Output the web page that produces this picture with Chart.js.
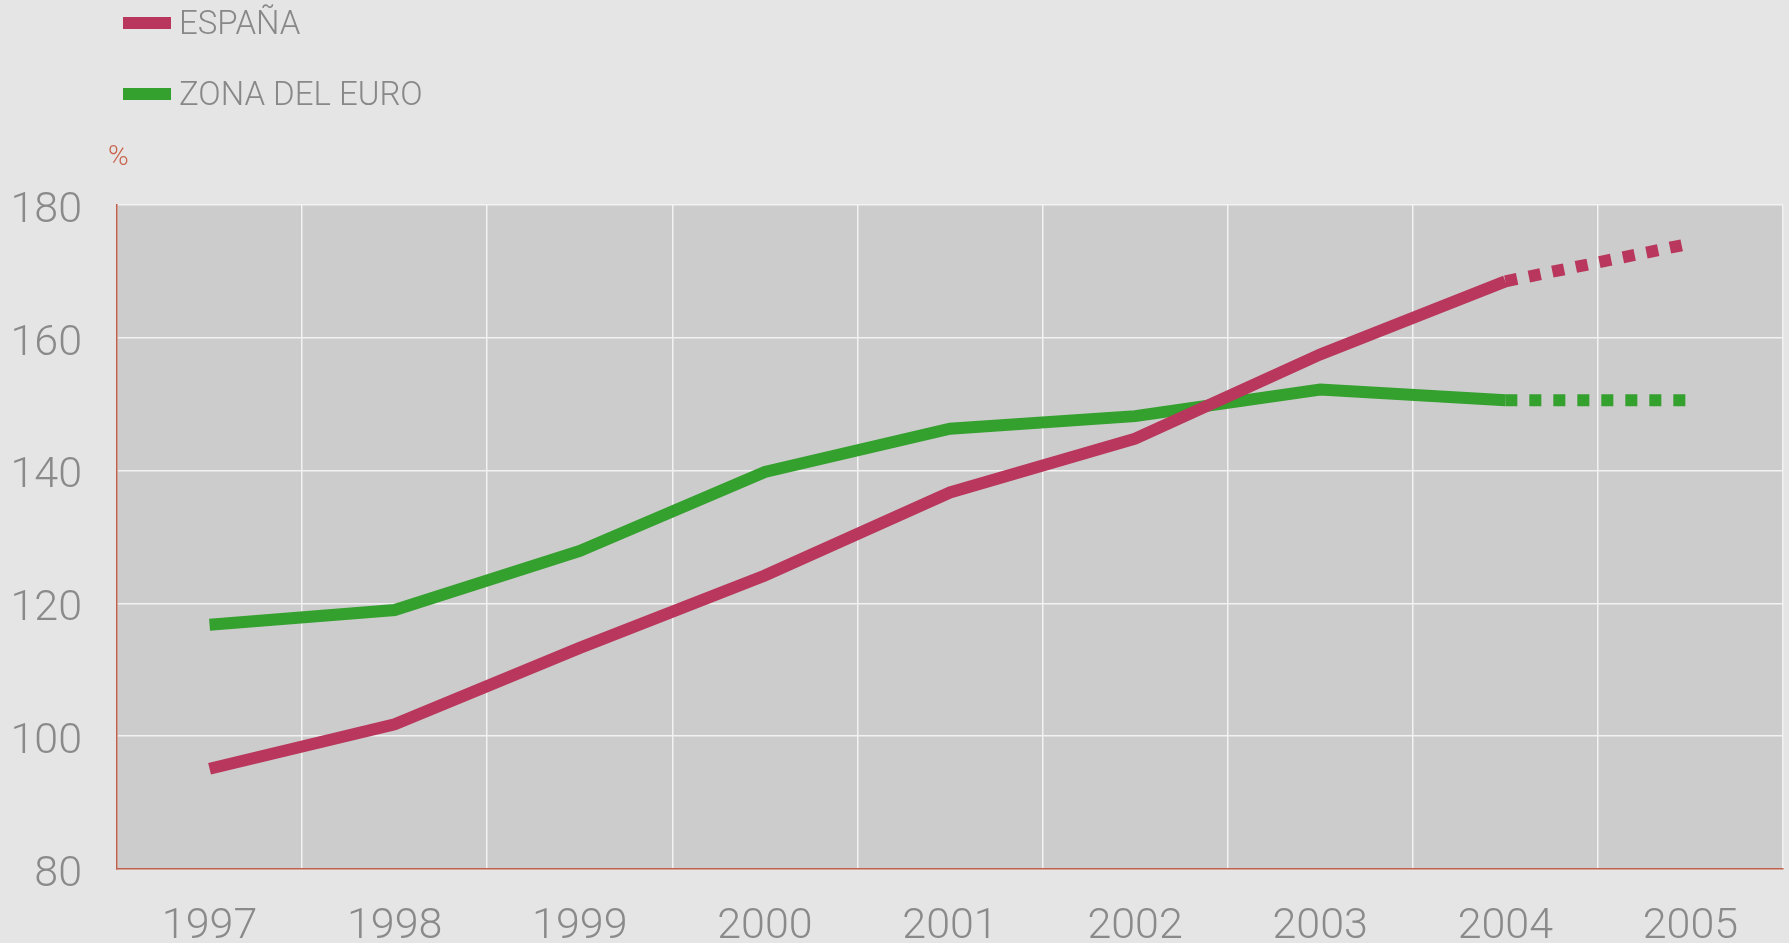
<!DOCTYPE html>
<html lang="es">
<head>
<meta charset="utf-8">
<title>España / Zona del euro</title>
<script src="https://cdn.jsdelivr.net/npm/chart.js@4/dist/chart.umd.min.js"></script>
<style>
    html, body {
        margin: 0;
        padding: 0;
        background: #e5e5e5;
        overflow: hidden;
    }
    .wrap {
        position: relative;
        width: 1789px;
        height: 943px;
    }
    .legend-item {
        position: absolute;
        left: 123px;
        display: flex;
        align-items: center;
        font-family: Roboto, "Liberation Sans", sans-serif;
        font-weight: 300;
        font-size: 33px;
        color: #888888;
        line-height: 1;
    }
    .legend-item .swatch {
        width: 48px;
        height: 12px;
        margin-right: 8px;
    }
    .unit {
        position: absolute;
        left: 108px;
        top: 139px;
        font-family: Roboto, "Liberation Sans", sans-serif;
        font-weight: 300;
        font-size: 28px;
        color: #c8644c;
    }
</style>
</head>
<body>
<div class="wrap">
    <canvas id="deudaChart" width="1789" height="943"></canvas>
    <div class="legend-item" style="top: 6px;"><span class="swatch" style="background:#b9365c"></span>ESPAÑA</div>
    <div class="legend-item" style="top: 77px;"><span class="swatch" style="background:#34a02e"></span>ZONA DEL EURO</div>
    <div class="unit">%</div>
</div>
<script>
// Years on the x axis; 2005 is a forecast (drawn dotted)
const years = ['1997', '1998', '1999', '2000', '2001', '2002', '2003', '2004', '2005'];
const espana = [95.1, 101.8, 113.3, 124.2, 136.7, 144.8, 157.5, 168.5, 174.2];
const zonaEuro = [116.8, 119.0, 127.9, 139.8, 146.3, 148.2, 152.2, 150.6, 150.6];
const yMin = 80;
const yMax = 180;
const yStep = 20;
const lastActual = 7; // index of 2004, after which the line is dotted

// Gray fill behind the plot area
const plotBackground = {
    id: 'plotBackground',
    beforeDraw(chart) {
        const { ctx, chartArea } = chart;
        ctx.save();
        ctx.fillStyle = '#cccccc';
        ctx.fillRect(chartArea.left, chartArea.top, chartArea.width, chartArea.height);
        ctx.restore();
    }
};

const dotted = ctx => ctx.p0DataIndex >= lastActual ? [12, 12] : undefined;

const tickFont = { family: 'Roboto, "Liberation Sans", sans-serif', size: 43, weight: '300' };

new Chart(document.getElementById('deudaChart').getContext('2d'), {
    type: 'line',
    data: {
        labels: years,
        datasets: [
            {
                label: 'ESPAÑA',
                data: espana,
                borderColor: '#b9365c',
                borderWidth: 12,
                borderCapStyle: 'butt',
                borderJoinStyle: 'miter',
                pointRadius: 0,
                tension: 0,
                segment: { borderDash: dotted }
            },
            {
                label: 'ZONA DEL EURO',
                data: zonaEuro,
                borderColor: '#34a02e',
                borderWidth: 12,
                borderCapStyle: 'butt',
                borderJoinStyle: 'miter',
                pointRadius: 0,
                tension: 0,
                segment: { borderDash: dotted }
            }
        ]
    },
    options: {
        responsive: false,
        animation: false,
        layout: {
            padding: { top: 205, right: 6, left: 0, bottom: 0 }
        },
        plugins: {
            legend: { display: false },
            tooltip: { enabled: false }
        },
        scales: {
            x: {
                offset: true,
                grid: {
                    offset: true,
                    color: '#f2f2f2',
                    lineWidth: 1.5,
                    drawTicks: false
                },
                border: { color: '#c0604a', width: 1.5 },
                ticks: {
                    color: '#8a8a8a',
                    font: tickFont,
                    padding: 32,
                    maxRotation: 0
                },
                afterFit(scale) {
                    scale.height = 74;
                }
            },
            y: {
                min: yMin,
                max: yMax,
                ticks: {
                    stepSize: yStep,
                    color: '#8a8a8a',
                    font: tickFont,
                    padding: 35,
                    labelOffset: 6
                },
                grid: {
                    color: '#f2f2f2',
                    lineWidth: 1.5,
                    drawTicks: false
                },
                border: { color: '#c0604a', width: 1.5 },
                afterFit(scale) {
                    scale.width = 117;
                }
            }
        }
    },
    plugins: [plotBackground]
});
</script>
</body>
</html>
